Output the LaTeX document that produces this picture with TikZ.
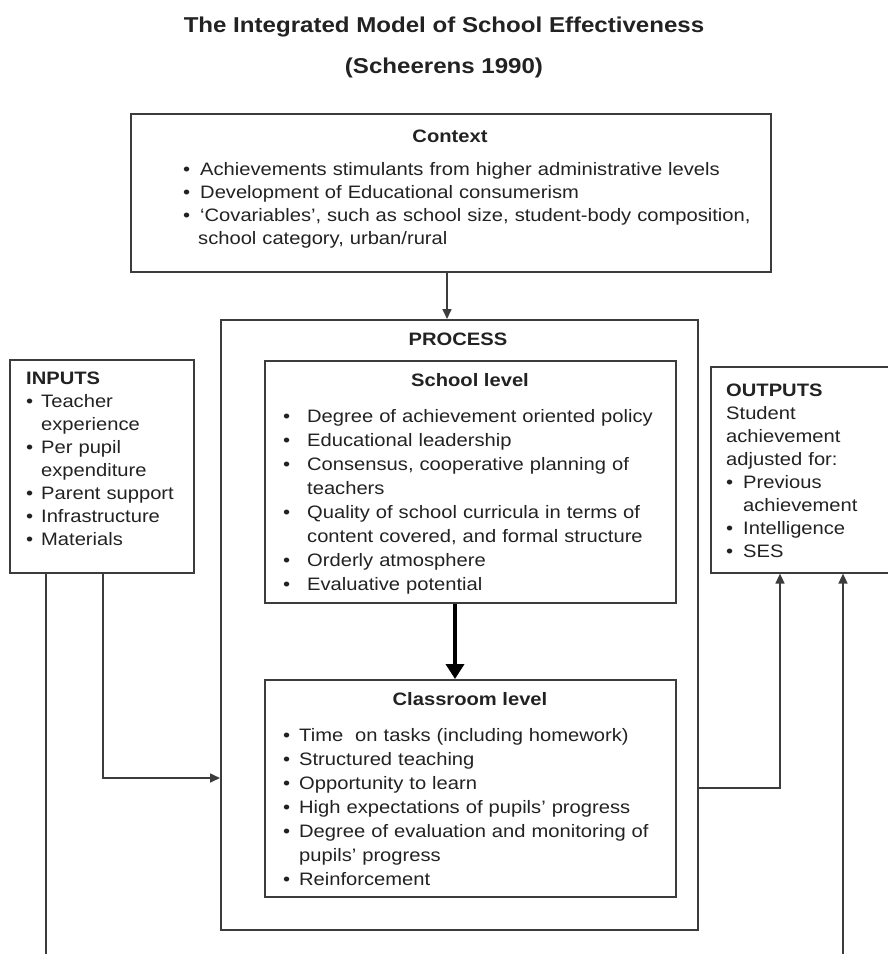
\documentclass[tikz,border=0pt]{standalone}
\usepackage{fontspec}
\setmainfont[FakeStretch=1.12]{Liberation Sans}
\usetikzlibrary{arrows.meta}

\definecolor{ink}{HTML}{222222}
\definecolor{linegray}{HTML}{3C3C3C}

% body text size and line pitch
\newcommand\bodyfont{\fontsize{18}{23}\selectfont}
\newcommand\headfont{\fontsize{18}{23}\selectfont\bfseries}
\newcommand\titlefont{\fontsize{21.5}{26}\selectfont\bfseries}
% bullet line with hanging indent: \bl[indent]{text}
\newcommand\bl[2][15pt]{\par\noindent\hangindent=#1\hangafter=1\makebox[#1][l]{\textbullet}#2}

\tikzset{
  frame/.style={draw=linegray, line width=1.6pt, inner sep=0pt, anchor=north west},
  body/.style={anchor=north west, inner sep=0pt, align=left, text width=#1, font=\bodyfont, text=ink},
  head/.style={inner sep=0pt, font=\headfont, text=ink},
  link/.style={draw=linegray, line width=1.6pt, -{Triangle[length=10pt,width=9pt]}},
  plainlink/.style={draw=linegray, line width=1.6pt},
  boldlink/.style={draw=black, line width=4.5pt, -{Triangle[length=15pt,width=18pt]}},
}

\begin{document}
\begin{tikzpicture}[x=1pt, y=-1pt]
\useasboundingbox[fill=white] (0,0) rectangle (888,954);

% title
\node[font=\titlefont, text=ink, inner sep=0pt] (title) at (444,27)
  {The Integrated Model of School Effectiveness};
\node[font=\titlefont, text=ink, inner sep=0pt] (subtitle) at (444,68)
  {(Scheerens 1990)};

% context
\node[frame, minimum width=640pt, minimum height=158pt] (context) at (130,113) {};
\node[head] (contexthead) at (450,136) {Context};
\node[body=620pt] (contextlist) at (183,152) {%
  \bl[17pt]{Achievements stimulants from higher administrative levels}
  \bl[17pt]{Development of Educational consumerism}
  \bl[17pt]{`Covariables', such as school size, student-body composition,\newline\hspace*{15pt}school category, urban/rural}};

% process
\node[frame, minimum width=477pt, minimum height=610pt] (process) at (220,319) {};
\node[head] (processhead) at (458,339.5) {PROCESS};

% school level
\node[frame, minimum width=411pt, minimum height=242pt] (school) at (264,360) {};
\node[head] (schoolhead) at (470,380) {School level};
\node[body=395pt, font=\fontsize{18}{24}\selectfont] (schoollist) at (283,398.5) {%
  \bl[24pt]{Degree of achievement oriented policy}
  \bl[24pt]{Educational leadership}
  \bl[24pt]{Consensus, cooperative planning of\newline teachers}
  \bl[24pt]{Quality of school curricula in terms of\newline content covered, and formal structure}
  \bl[24pt]{Orderly atmosphere}
  \bl[24pt]{Evaluative potential}};

% classroom level
\node[frame, minimum width=411pt, minimum height=217pt] (class) at (264,679) {};
\node[head] (classhead) at (470,699.5) {Classroom level};
\node[body=395pt, font=\fontsize{18}{24}\selectfont] (classlist) at (283,717) {%
  \bl[16pt]{Time\ \ on tasks (including homework)}
  \bl[16pt]{Structured teaching}
  \bl[16pt]{Opportunity to learn}
  \bl[16pt]{High expectations of pupils' progress}
  \bl[16pt]{Degree of evaluation and monitoring of\newline pupils' progress}
  \bl[16pt]{Reinforcement}};

% inputs
\node[frame, minimum width=184pt, minimum height=213pt] (inputs) at (9,359) {};
\node[body=170pt] (inputslist) at (26,372) {%
  \textbf{INPUTS}
  \bl{Teacher\newline experience}
  \bl{Per pupil\newline expenditure}
  \bl{Parent support}
  \bl{Infrastructure}
  \bl{Materials}};

% outputs
\node[frame, minimum width=180pt, minimum height=206pt] (outputs) at (710,366) {};
\node[body=165pt] (outputslist) at (726,384) {%
  \textbf{OUTPUTS}\newline Student\newline achievement\newline adjusted for:
  \bl[17pt]{Previous\newline achievement}
  \bl[17pt]{Intelligence}
  \bl[17pt]{SES}};

% connectors
\coordinate (ctxdrop) at (447,0);
\coordinate (lvldrop) at (455,0);
\coordinate (infeed) at (103,778);
\coordinate (outfeed) at (780,788);
\coordinate (leftend) at (46,954);
\coordinate (rightend) at (843,954);

\draw[link] (context.south -| ctxdrop) -- (process.north -| ctxdrop);
\draw[boldlink] (school.south -| lvldrop) -- (class.north -| lvldrop);
\draw[link] (inputs.south -| infeed) |- (process.west |- infeed);
\draw[link] (process.east |- outfeed) -| (outputs.south -| outfeed);
\draw[plainlink] (inputs.south -| leftend) -- (leftend);
\draw[link] (rightend) -- (outputs.south -| rightend);
\end{tikzpicture}
\end{document}
